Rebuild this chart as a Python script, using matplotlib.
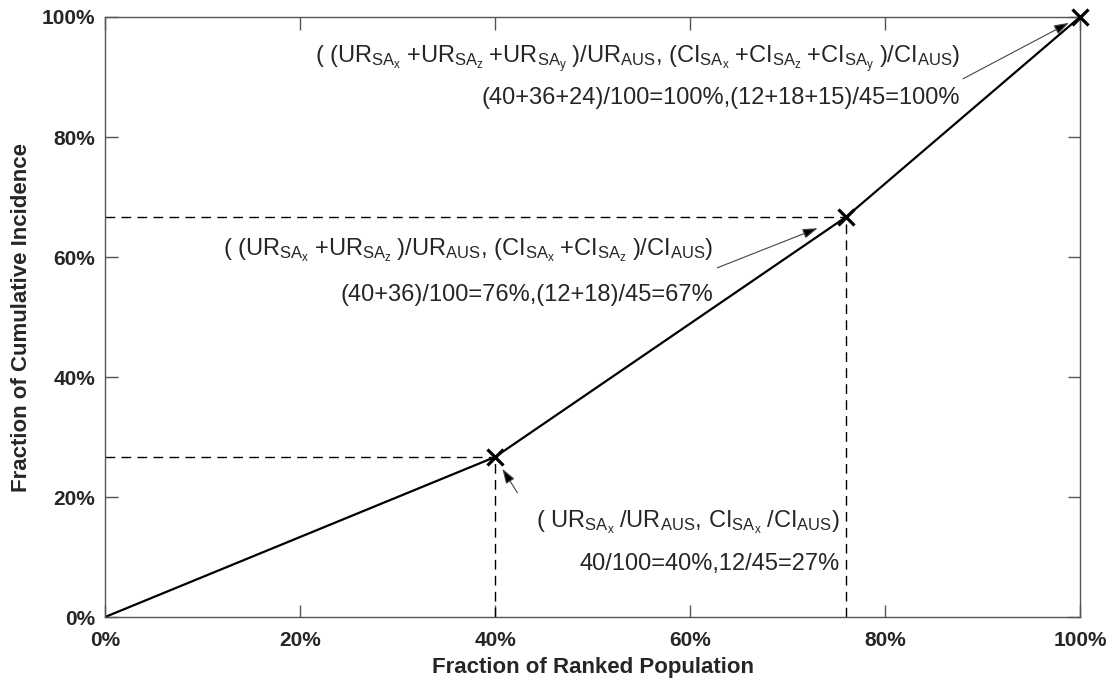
import matplotlib
matplotlib.use("Agg")
import matplotlib.pyplot as plt
import numpy as np

plt.rcParams["font.family"] = ["Liberation Sans", "DejaVu Sans"]
plt.rcParams["mathtext.fontset"] = "custom"
plt.rcParams["mathtext.rm"] = "Liberation Sans"
plt.rcParams["mathtext.it"] = "Liberation Sans:italic"
plt.rcParams["mathtext.bf"] = "Liberation Sans:bold"

# regional counts: UR (population) and CI (incidence) for SA_x, SA_z, SA_y
regions = ["x", "z", "y"]
ur_counts = [40, 36, 24]
ci_counts = [12, 18, 15]
ur_total = 100
ci_total = 45

pop_share = np.concatenate([[0], np.cumsum(ur_counts) / ur_total * 100])
inc_share = np.concatenate([[0], np.cumsum(ci_counts) / ci_total * 100])

ticks = [0, 20, 40, 60, 80, 100]
tick_labels = [f"{t}%" for t in ticks]

INK = "#262626"
AXIS = "#555555"
DASH = (0, (7, 4.5))

fig = plt.figure(figsize=(11.15, 6.8), dpi=100)
ax = fig.add_axes([0.0942, 0.0926, 0.8744, 0.8824])

# guide lines from the axes to each ranked point
for px, py in zip(pop_share[1:-1], inc_share[1:-1]):
    ax.plot([0, px], [py, py], color="black", lw=1.0, ls=DASH)
    ax.plot([px, px], [0, py], color="black", lw=1.0, ls=DASH)

ax.plot(pop_share, inc_share, color="black", lw=1.6)
ax.plot(pop_share[1:], inc_share[1:], ls="none", marker="x", ms=12,
        mew=2.3, color="black", clip_on=False, zorder=5)

ax.set_xlim(0, 100)
ax.set_ylim(0, 100)
ax.set_xticks(ticks)
ax.set_yticks(ticks)
ax.set_xticklabels(tick_labels, fontsize=15, fontweight="bold", color=INK)
ax.set_yticklabels(tick_labels, fontsize=15, fontweight="bold", color=INK)
ax.tick_params(direction="in", length=9, width=1, color=AXIS,
               top=True, right=True)
ax.tick_params(axis="x", pad=10)
ax.tick_params(axis="y", pad=7)
for sp in ax.spines.values():
    sp.set_color(AXIS)
    sp.set_linewidth(1.0)

ax.set_xlabel("Fraction of Ranked Population", fontsize=16,
              fontweight="bold", color=INK, labelpad=5)
ax.set_ylabel("Fraction of Cumulative Incidence", fontsize=16,
              fontweight="bold", color=INK, labelpad=7)


def sub(r):
    return r"$_{\mathrm{SA}_{\mathrm{" + r + r"}}}\;$"


AUS = r"$_{\mathrm{AUS}}$"


def sa_sum(prefix, n):
    return "+".join(prefix + sub(r) for r in regions[:n])


line1 = [
    "( UR" + sub("x") + "/UR" + AUS + ", CI" + sub("x") + "/CI" + AUS + ")",
    "( (" + sa_sum("UR", 2) + ")/UR" + AUS + ", ("
    + sa_sum("CI", 2) + ")/CI" + AUS + ")",
    "( (" + sa_sum("UR", 3) + ")/UR" + AUS + ", ("
    + sa_sum("CI", 3) + ")/CI" + AUS + ")",
]
line2 = [
    "40/100=40%,12/45=27%",
    "(40+36)/100=76%,(12+18)/45=67%",
    "(40+36+24)/100=100%,(12+18+15)/45=100%",
]
# text anchor (right edge, baseline of each line) and arrow tail per point
text_x = [75.4, 62.4, 87.7]
text_y1 = [15.0, 60.3, 92.3]
text_y2 = [7.8, 52.7, 85.5]
tail = [(42.3, 20.7), (62.8, 58.2), (88.0, 89.7)]
gap = [10, 22, 9]

for i in range(3):
    ax.text(text_x[i], text_y1[i], line1[i], fontsize=17, color=INK,
            ha="right", va="baseline")
    ax.text(text_x[i], text_y2[i], line2[i], fontsize=17, color=INK,
            ha="right", va="baseline")
    ax.annotate("", xy=(pop_share[i + 1], inc_share[i + 1]), xytext=tail[i],
                arrowprops=dict(arrowstyle="-|>,head_length=0.9,head_width=0.3",
                                fc="black", ec="#444444", lw=0.8,
                                shrinkA=0, shrinkB=gap[i]))

fig.savefig("out.png", dpi=100, facecolor="white")
